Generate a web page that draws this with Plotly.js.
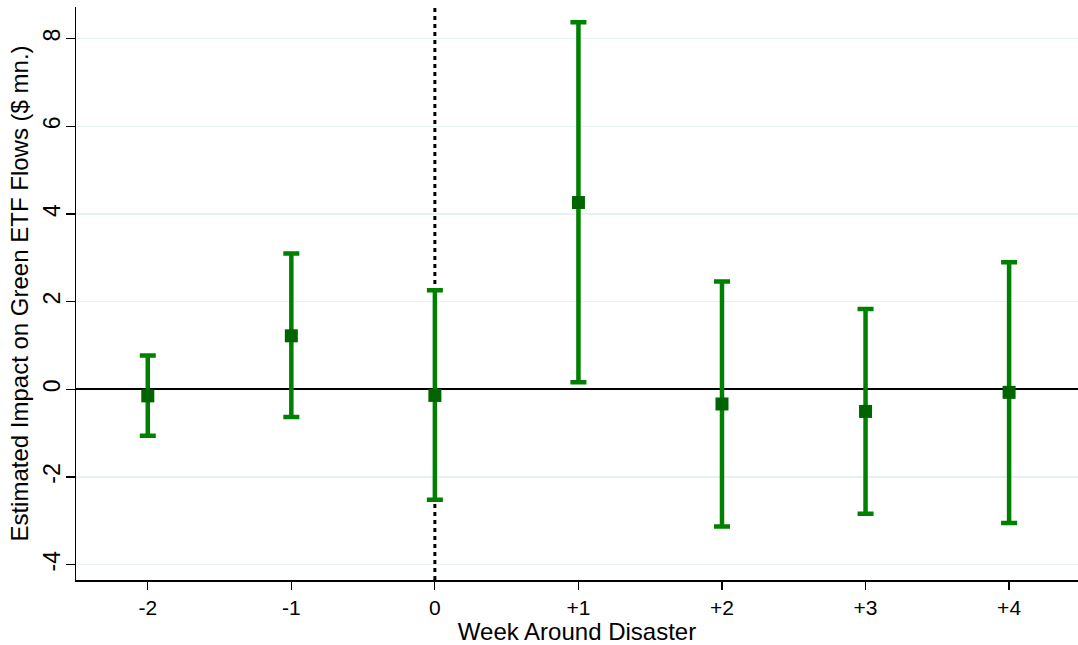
<!DOCTYPE html>
<html>
<head>
<meta charset="utf-8">
<script src="https://cdn.plot.ly/plotly-3.0.1.min.js"></script>
<style>html,body{margin:0;padding:0;background:#fff;}#chart{width:1078px;height:645px;}</style>
</head>
<body>
<div id="chart"></div>
<script>
const weeks = ["-2", "-1", "0", "+1", "+2", "+3", "+4"];
const estimate = [-0.15, 1.22, -0.14, 4.26, -0.335, -0.505, -0.07];
const upperCI = [0.77, 3.10, 2.26, 8.37, 2.46, 1.83, 2.90];
const lowerCI = [-1.06, -0.63, -2.52, 0.16, -3.13, -2.84, -3.05];
const yTicks = [-4, -2, 0, 2, 4, 6, 8];
const eventWeek = "0";

const errPlus = upperCI.map((u, i) => u - estimate[i]);
const errMinus = estimate.map((e, i) => e - lowerCI[i]);

const font = "Liberation Sans, Arial, sans-serif";

const trace = {
  type: "scatter",
  mode: "markers",
  x: weeks,
  y: estimate,
  marker: {symbol: "square", size: 13, color: "#006400"},
  error_y: {
    type: "data", symmetric: false,
    array: errPlus, arrayminus: errMinus,
    color: "#008000", thickness: 4.5, width: 8
  },
  showlegend: false,
  hoverinfo: "x+y"
};

const layout = {
  width: 1078, height: 645,
  margin: {l: 76, r: 0, t: 7, b: 65},
  paper_bgcolor: "#ffffff",
  plot_bgcolor: "#ffffff",
  font: {family: font, color: "#000", size: 22},
  xaxis: {
    type: "category",
    range: [-0.5, 6.48],
    showgrid: false,
    showline: true, linecolor: "#000", linewidth: 1.5,
    ticks: "outside", ticklen: 8, tickwidth: 1.2, tickcolor: "#000",
    tickfont: {family: font, size: 21},
    title: {text: "Week Around Disaster", font: {family: font, size: 24}, standoff: 1},
    zeroline: false
  },
  yaxis: {
    range: [-4.35, 8.72],
    tickvals: yTicks,
    ticktext: yTicks.map(String),
    tickangle: -90,
    ticklabelstandoff: -4,
    showgrid: true, gridcolor: "#e8f0f2", gridwidth: 1.5,
    zeroline: true, zerolinecolor: "#000", zerolinewidth: 1.8,
    showline: true, linecolor: "#000", linewidth: 1.5,
    ticks: "outside", ticklen: 9, tickwidth: 1.2, tickcolor: "#000",
    tickfont: {family: font, size: 23},
    title: {text: "Estimated Impact on Green ETF Flows ($ mn.)", font: {family: font, size: 24}, standoff: 4}
  },
  shapes: [{
    type: "line", xref: "x", yref: "paper",
    x0: weeks.indexOf(eventWeek), x1: weeks.indexOf(eventWeek), y0: 0, y1: 1,
    line: {color: "#000", width: 3, dash: "4px,4px"},
    layer: "below"
  }]
};

Plotly.newPlot("chart", [trace], layout, {displayModeBar: false, staticPlot: true});
</script>
</body>
</html>
